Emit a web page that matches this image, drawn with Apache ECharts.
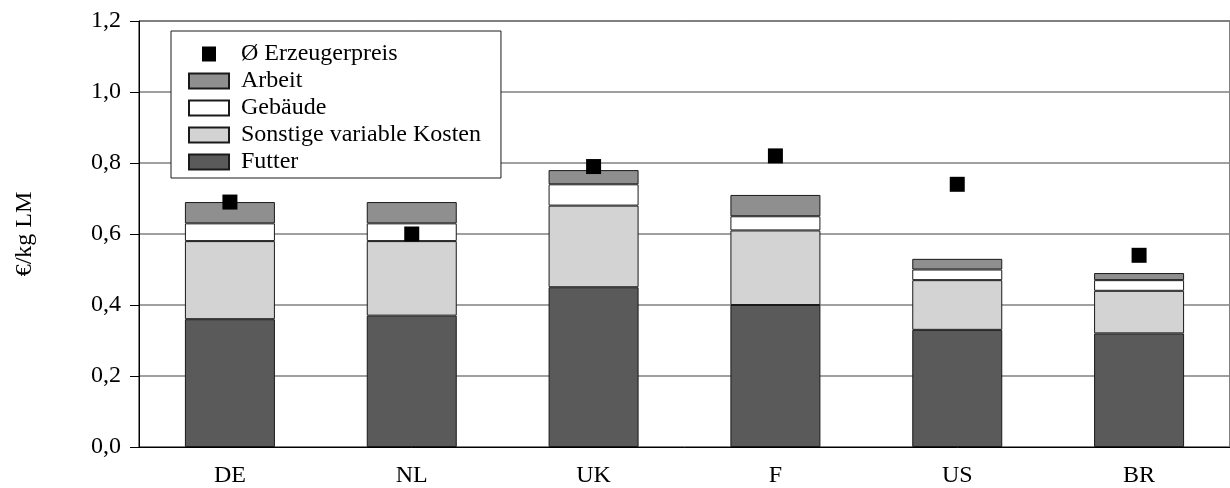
<!DOCTYPE html>
<html>
<head>
<meta charset="utf-8">
<script src="https://cdn.jsdelivr.net/npm/echarts@6/dist/echarts.min.js"></script>
<style>
html,body{margin:0;padding:0;background:#fff;}
#c{width:1230px;height:488px;}
</style>
</head>
<body>
<div id="c"></div>
<script>
var categories = ['DE', 'NL', 'UK', 'F', 'US', 'BR'];
var futter = [0.36, 0.37, 0.45, 0.40, 0.33, 0.32];
var sonstige = [0.22, 0.21, 0.23, 0.21, 0.14, 0.12];
var gebaeude = [0.05, 0.05, 0.06, 0.04, 0.03, 0.03];
var arbeit = [0.06, 0.06, 0.04, 0.06, 0.03, 0.02];
var erzeugerpreis = [0.69, 0.60, 0.79, 0.82, 0.74, 0.54];
var yTicks = [0, 0.2, 0.4, 0.6, 0.8, 1.0, 1.2];

var FONT = '"Liberation Serif", "Times New Roman", serif';
var chart = echarts.init(document.getElementById('c'), null, {renderer: 'canvas'});

function barSeries(name, data, color) {
  return {
    name: name,
    type: 'bar',
    stack: 'kosten',
    data: data,
    barWidth: 90,
    itemStyle: {color: color, borderColor: '#1a1a1a', borderWidth: 1},
    emphasis: {disabled: true},
    z: 2
  };
}

chart.setOption({
  animation: false,
  backgroundColor: '#fff',
  textStyle: {fontFamily: FONT},
  grid: {left: 139, right: -5, top: 21, bottom: 41, show: true, borderColor: '#000', borderWidth: 1, backgroundColor: 'transparent'},
  legend: {
    orient: 'vertical',
    left: 171,
    top: 31,
    padding: [11, 20, 4, 17],
    itemGap: 3,
    itemWidth: 40,
    itemHeight: 15,
    icon: 'rect',
    backgroundColor: '#fff',
    borderColor: '#1a1a1a',
    borderWidth: 1,
    borderRadius: 0,
    z: 10,
    textStyle: {fontFamily: FONT, fontSize: 24, color: '#000', lineHeight: 24, padding: [0, 0, 0, 7]},
    data: [
      {name: 'Ø Erzeugerpreis', icon: 'path://M0,0M40,15M13,0L27,0L27,15L13,15Z'},
      'Arbeit', 'Gebäude', 'Sonstige variable Kosten', 'Futter'
    ]
  },
  xAxis: {
    type: 'category',
    data: categories,
    axisLine: {lineStyle: {color: '#000', width: 1}},
    axisTick: {show: false},
    axisLabel: {fontFamily: FONT, fontSize: 24, color: '#000', margin: 17}
  },
  yAxis: {
    type: 'value',
    min: 0,
    max: 1.2,
    interval: 0.2,
    name: '€/kg LM',
    nameLocation: 'middle',
    nameGap: 102,
    nameTextStyle: {fontFamily: FONT, fontSize: 24, color: '#000'},
    axisLine: {show: true, lineStyle: {color: '#000', width: 1}},
    axisTick: {show: true, length: 9, lineStyle: {color: '#000'}},
    axisLabel: {
      fontFamily: FONT, fontSize: 24, color: '#000', margin: 18,
      formatter: function (v) {
        var t = yTicks.reduce(function (a, b) { return Math.abs(b - v) < Math.abs(a - v) ? b : a; });
        return t.toFixed(1).replace('.', ',');
      }
    },
    splitLine: {show: true, lineStyle: {color: '#808080', width: 1.5}}
  },
  series: [
    barSeries('Futter', futter, '#5a5a5a'),
    barSeries('Sonstige variable Kosten', sonstige, '#d3d3d3'),
    barSeries('Gebäude', gebaeude, '#ffffff'),
    barSeries('Arbeit', arbeit, '#8f8f8f'),
    {
      name: 'Ø Erzeugerpreis',
      type: 'scatter',
      data: erzeugerpreis,
      symbol: 'rect',
      symbolSize: 15,
      itemStyle: {color: '#000', opacity: 1},
      emphasis: {disabled: true},
      z: 5
    }
  ]
});
</script>
</body>
</html>
